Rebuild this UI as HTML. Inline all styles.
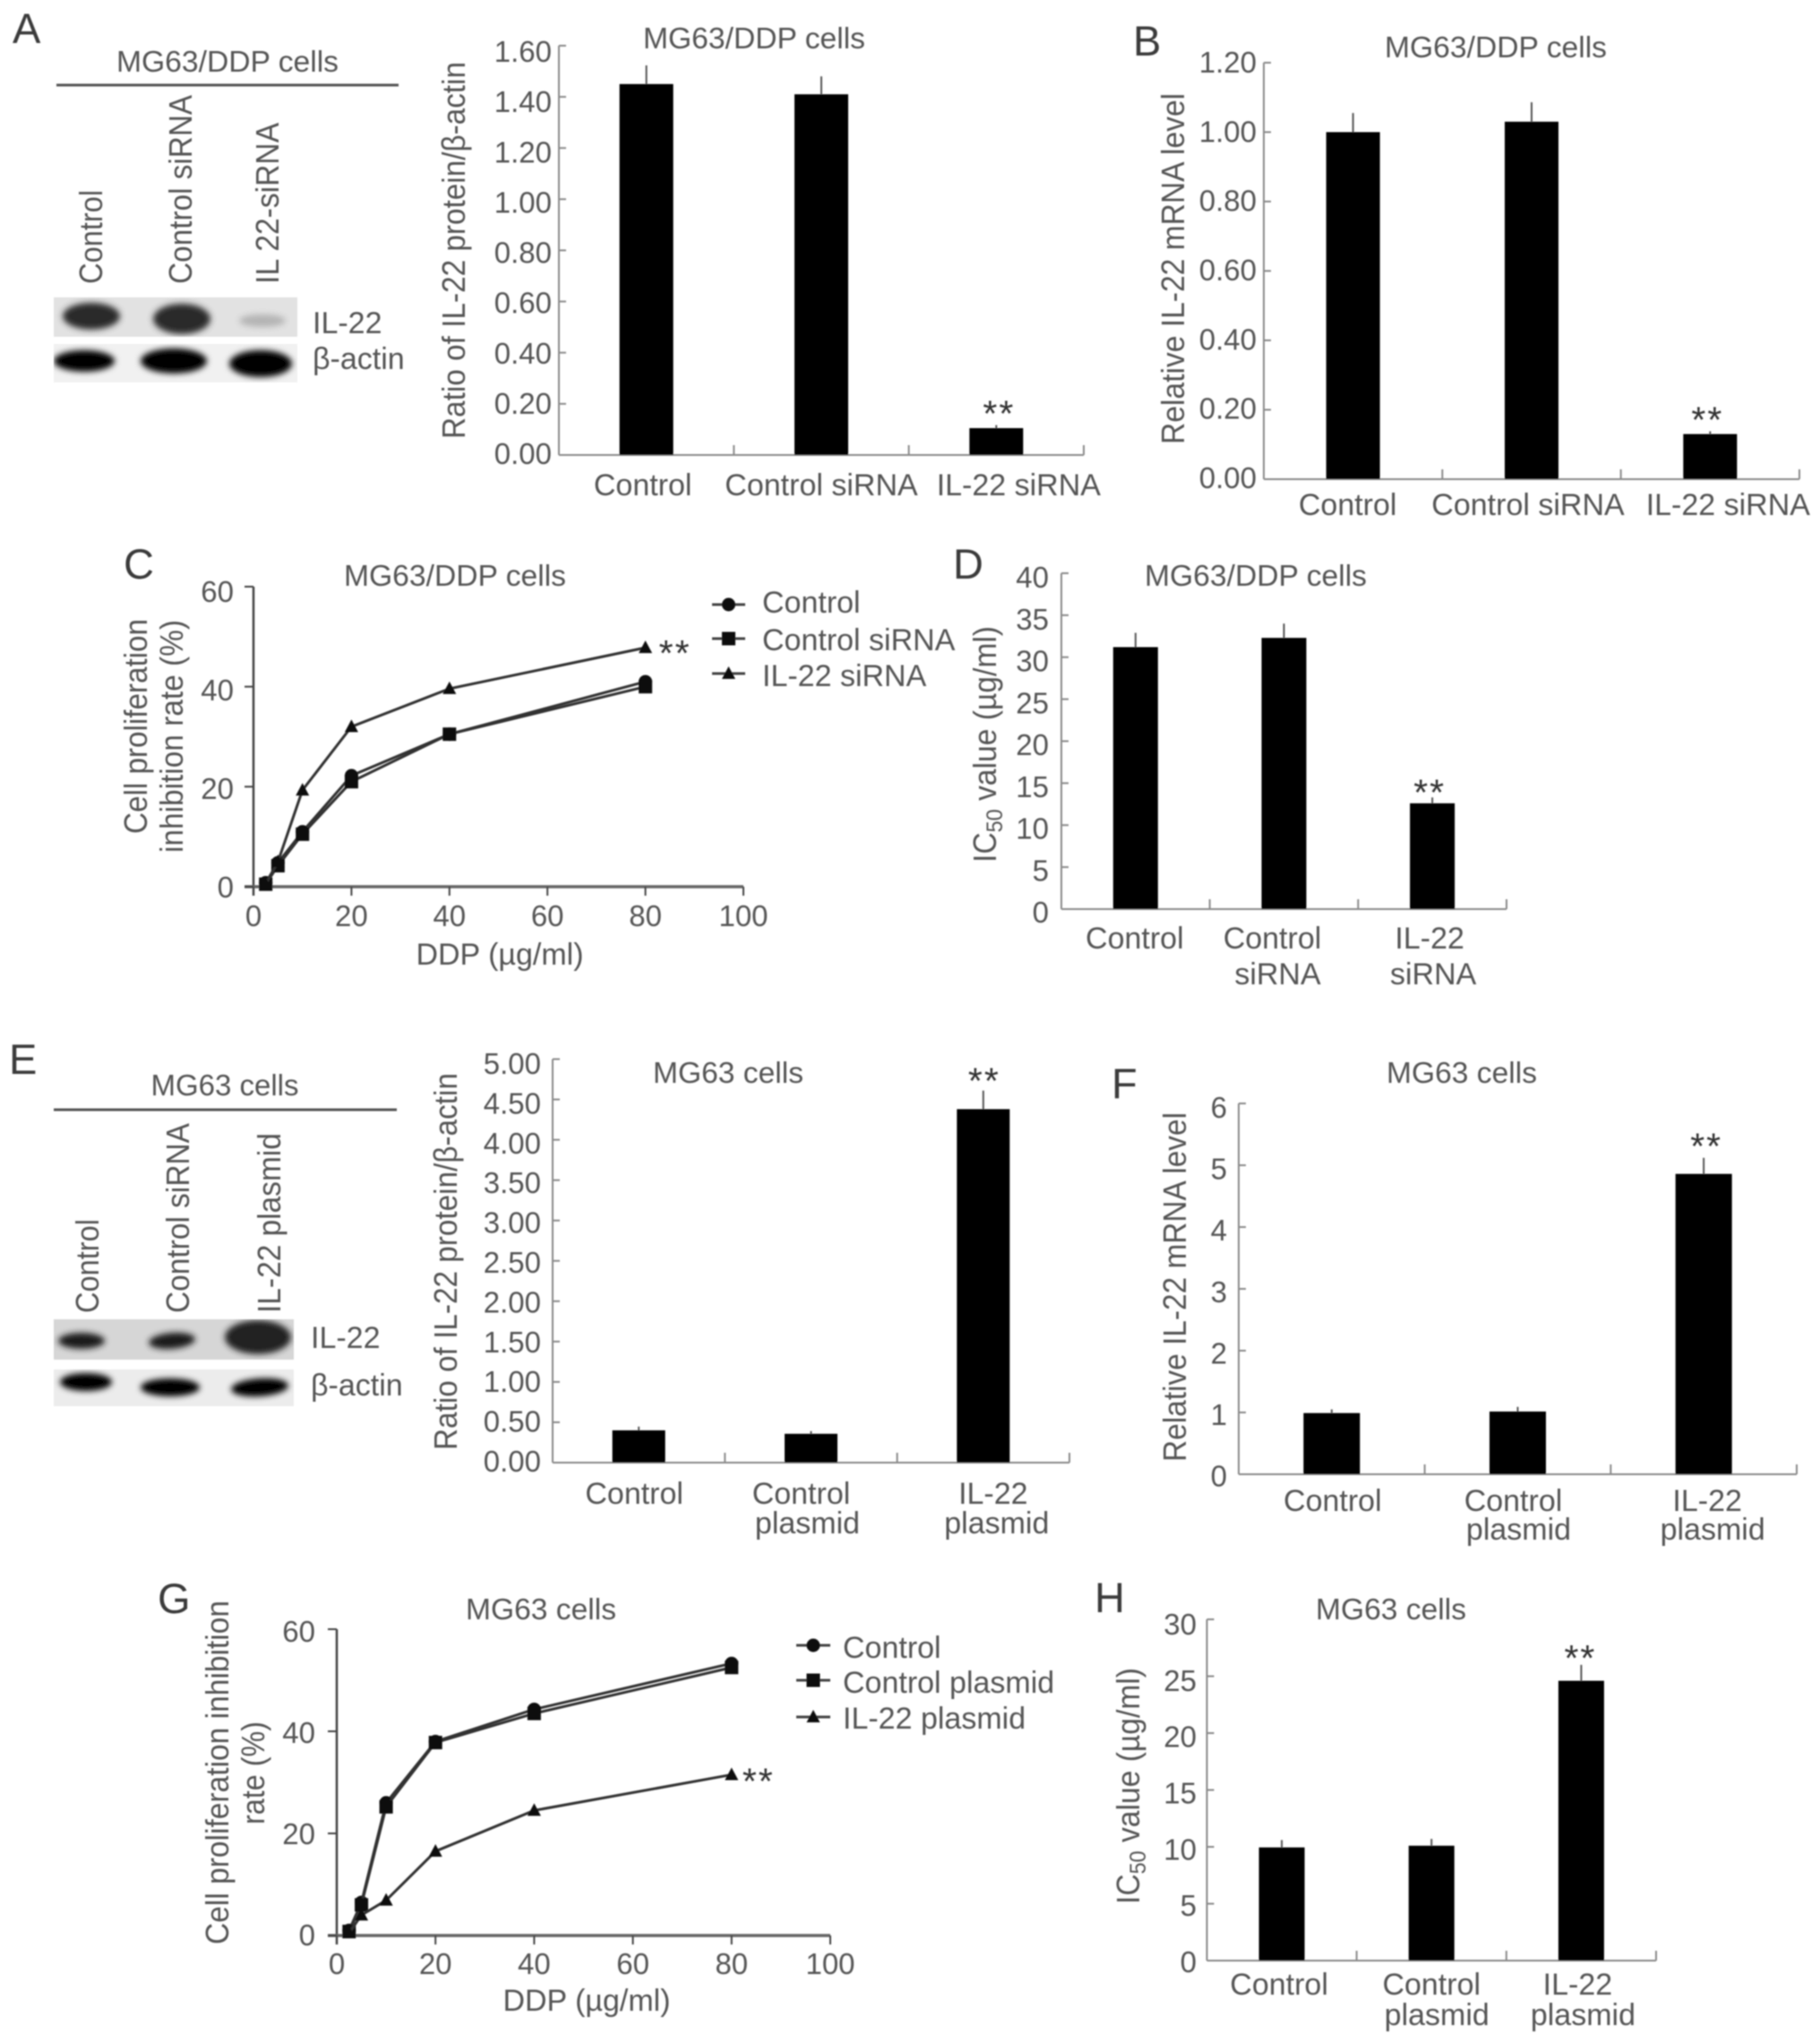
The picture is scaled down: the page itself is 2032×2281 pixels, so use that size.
<!DOCTYPE html>
<html lang="en">
<head>
<meta charset="utf-8">
<title>IL-22 figure panels A-H</title>
<style>
html,body{margin:0;padding:0;background:#fff;}
svg{display:block;}
text{font-family:"Liberation Sans",sans-serif;fill:#555;font-size:33px;}
.letter{font-size:47px;fill:#3a3a3a;}
.rot{font-size:36px;}
.leg{font-size:34px;}
</style>
</head>
<body>
<svg id="figure" xmlns="http://www.w3.org/2000/svg" width="2032" height="2281" viewBox="0 0 2032 2281">
<defs>
<filter id="soft" x="-5%" y="-5%" width="110%" height="110%"><feGaussianBlur stdDeviation="0.9"/></filter>
<filter id="band" x="-40%" y="-60%" width="180%" height="220%"><feGaussianBlur stdDeviation="3.5"/></filter>
<clipPath id="clipA1"><rect x="60" y="332" width="272" height="44"/></clipPath>
<clipPath id="clipA2"><rect x="60" y="384" width="272" height="43"/></clipPath>
<clipPath id="clipE1"><rect x="60" y="1473" width="268" height="45"/></clipPath>
<clipPath id="clipE2"><rect x="60" y="1529" width="268" height="41"/></clipPath>
</defs>
<rect width="2032" height="2281" fill="#fff"/>
<g id="root" filter="url(#soft)">
  <text class="letter" x="14" y="48">A</text>
  <text class="letter" x="1265" y="62">B</text>
  <text class="letter" x="138" y="646">C</text>
  <text class="letter" x="1064" y="646">D</text>
  <text class="letter" x="10" y="1199">E</text>
  <text class="letter" x="1241" y="1226">F</text>
  <text class="letter" x="176" y="1801">G</text>
  <text class="letter" x="1222" y="1800">H</text>

  <!-- Blot A -->
  <g>
    <text x="254" y="80" text-anchor="middle" textLength="248" lengthAdjust="spacingAndGlyphs">MG63/DDP cells</text>
    <rect x="63" y="93.5" width="382" height="3" fill="#555"/>
    <text class="rot" transform="translate(114,317) rotate(-90)" textLength="105" lengthAdjust="spacingAndGlyphs">Control</text>
    <text class="rot" transform="translate(214,317) rotate(-90)" textLength="211" lengthAdjust="spacingAndGlyphs">Control siRNA</text>
    <text class="rot" transform="translate(311,317) rotate(-90)" textLength="180" lengthAdjust="spacingAndGlyphs">IL 22-siRNA</text>
  </g>
  <g clip-path="url(#clipA1)">
    <rect x="60" y="332" width="272" height="44" fill="#e2e2e2"/>
    <ellipse cx="102" cy="353" rx="32" ry="15" fill="#2c2c2c" filter="url(#band)"/>
    <ellipse cx="203" cy="356" rx="32" ry="17" fill="#2c2c2c" filter="url(#band)"/>
    <ellipse cx="293" cy="358" rx="26" ry="7" fill="#b4b4b4" filter="url(#band)"/>
  </g>
  <g clip-path="url(#clipA2)">
    <rect x="60" y="384" width="272" height="43" fill="#f1f1f1"/>
    <ellipse cx="94" cy="403" rx="34" ry="12" fill="#000" filter="url(#band)"/>
    <ellipse cx="194" cy="403" rx="37" ry="14" fill="#000" filter="url(#band)"/>
    <ellipse cx="291" cy="406" rx="35" ry="15" fill="#000" filter="url(#band)"/>
  </g>
  <text class="leg" x="349" y="372">IL-22</text>
  <text class="leg" x="349" y="412">β-actin</text>

  <!-- Blot E -->
  <g>
    <text x="251" y="1223" text-anchor="middle">MG63 cells</text>
    <rect x="60" y="1237.5" width="383" height="3" fill="#555"/>
    <text class="rot" transform="translate(110,1466) rotate(-90)" textLength="105" lengthAdjust="spacingAndGlyphs">Control</text>
    <text class="rot" transform="translate(211,1466) rotate(-90)" textLength="212" lengthAdjust="spacingAndGlyphs">Control siRNA</text>
    <text class="rot" transform="translate(313,1466) rotate(-90)" textLength="201" lengthAdjust="spacingAndGlyphs">IL-22 plasmid</text>
  </g>
  <g clip-path="url(#clipE1)">
    <rect x="60" y="1473" width="268" height="45" fill="#d6d6d6"/>
    <ellipse cx="91" cy="1497" rx="26" ry="9" fill="#1c1c1c" filter="url(#band)"/>
    <ellipse cx="192" cy="1497" rx="26" ry="9" fill="#1c1c1c" filter="url(#band)" transform="rotate(-5 192 1497)"/>
    <ellipse cx="288" cy="1493" rx="37" ry="19" fill="#222" filter="url(#band)"/>
  </g>
  <g clip-path="url(#clipE2)">
    <rect x="60" y="1529" width="268" height="41" fill="#ececec"/>
    <ellipse cx="96" cy="1543" rx="29" ry="10" fill="#000" filter="url(#band)"/>
    <ellipse cx="190" cy="1549" rx="33" ry="10" fill="#000" filter="url(#band)"/>
    <ellipse cx="290" cy="1549" rx="32" ry="10" fill="#000" filter="url(#band)" transform="rotate(-4 290 1549)"/>
  </g>
  <text class="leg" x="347" y="1505">IL-22</text>
  <text class="leg" x="347" y="1558">β-actin</text>

  <!-- Chart titles -->
  <text x="842" y="54" text-anchor="middle" textLength="248" lengthAdjust="spacingAndGlyphs">MG63/DDP cells</text>
  <text x="1670" y="64" text-anchor="middle" textLength="248" lengthAdjust="spacingAndGlyphs">MG63/DDP cells</text>
  <text x="508" y="654" text-anchor="middle" textLength="248" lengthAdjust="spacingAndGlyphs">MG63/DDP cells</text>
  <text x="1402" y="654" text-anchor="middle" textLength="248" lengthAdjust="spacingAndGlyphs">MG63/DDP cells</text>
  <text x="813" y="1209" text-anchor="middle" textLength="168" lengthAdjust="spacingAndGlyphs">MG63 cells</text>
  <text x="1632" y="1209" text-anchor="middle" textLength="168" lengthAdjust="spacingAndGlyphs">MG63 cells</text>
  <text x="604" y="1808" text-anchor="middle" textLength="168" lengthAdjust="spacingAndGlyphs">MG63 cells</text>
  <text x="1553" y="1808" text-anchor="middle" textLength="168" lengthAdjust="spacingAndGlyphs">MG63 cells</text>

  <!-- Y axis titles -->
  <text class="rot" transform="translate(519,490) rotate(-90)" textLength="421" lengthAdjust="spacingAndGlyphs">Ratio of IL-22 protein/β-actin</text>
  <text class="rot" transform="translate(1322,496) rotate(-90)" textLength="392" lengthAdjust="spacingAndGlyphs">Relative IL-22 mRNA level</text>
  <text class="rot" transform="translate(164,931) rotate(-90)" textLength="240" lengthAdjust="spacingAndGlyphs">Cell proliferation</text>
  <text class="rot" transform="translate(204,952) rotate(-90)" textLength="260" lengthAdjust="spacingAndGlyphs">inhibition rate (%)</text>
  <text class="rot" transform="translate(1112,963) rotate(-90)" textLength="264" lengthAdjust="spacingAndGlyphs">IC<tspan font-size="25" dy="7">50</tspan><tspan dy="-7"> value (µg/ml)</tspan></text>
  <text class="rot" transform="translate(510,1619) rotate(-90)" textLength="421" lengthAdjust="spacingAndGlyphs">Ratio of IL-22 protein/β-actin</text>
  <text class="rot" transform="translate(1324,1632) rotate(-90)" textLength="390" lengthAdjust="spacingAndGlyphs">Relative IL-22 mRNA level</text>
  <text class="rot" transform="translate(255,2171) rotate(-90)" textLength="384" lengthAdjust="spacingAndGlyphs">Cell proliferation inhibition</text>
  <text class="rot" transform="translate(295,2037) rotate(-90)" textLength="115" lengthAdjust="spacingAndGlyphs">rate (%)</text>
  <text class="rot" transform="translate(1272,2126) rotate(-90)" textLength="264" lengthAdjust="spacingAndGlyphs">IC<tspan font-size="25" dy="7">50</tspan><tspan dy="-7"> value (µg/ml)</tspan></text>

  <!-- X axis titles -->
  <text class="leg" x="558" y="1077" text-anchor="middle">DDP (µg/ml)</text>
  <text class="leg" x="655" y="2245" text-anchor="middle">DDP (µg/ml)</text>

  <!-- Legend text -->
  <text class="leg" x="851" y="684">Control</text>
  <text class="leg" x="851" y="726">Control siRNA</text>
  <text class="leg" x="851" y="766">IL-22 siRNA</text>
  <text class="leg" x="941" y="1851">Control</text>
  <text class="leg" x="941" y="1890">Control plasmid</text>
  <text class="leg" x="941" y="1930">IL-22 plasmid</text>
</g>
</svg>
<script>
const panelACategories = [["Control"], ["Control siRNA"], ["IL-22 siRNA"]];
const panelATicks = ["0.00", "0.20", "0.40", "0.60", "0.80", "1.00", "1.20", "1.40", "1.60"];
const panelAValues = [1.45, 1.41, 0.105];
const panelAErrorTops = [1.523, 1.48, 0.117];

const panelBCategories = [["Control"], ["Control siRNA"], ["IL-22 siRNA"]];
const panelBTicks = ["0.00", "0.20", "0.40", "0.60", "0.80", "1.00", "1.20"];
const panelBValues = [1.0, 1.03, 0.13];
const panelBErrorTops = [1.055, 1.086, 0.138];

const panelDCategories = [["Control"], ["Control", "siRNA"], ["IL-22", "siRNA"]];
const panelDTicks = ["0", "5", "10", "15", "20", "25", "30", "35", "40"];
const panelDValues = [31.2, 32.3, 12.6];
const panelDErrorTops = [32.9, 34.0, 13.3];

const panelECategories = [["Control"], ["Control", "plasmid"], ["IL-22", "plasmid"]];
const panelETicks = ["0.00", "0.50", "1.00", "1.50", "2.00", "2.50", "3.00", "3.50", "4.00", "4.50", "5.00"];
const panelEValues = [0.40, 0.357, 4.38];
const panelEErrorTops = [0.446, 0.39, 4.61];

const panelFCategories = [["Control"], ["Control", "plasmid"], ["IL-22", "plasmid"]];
const panelFTicks = ["0", "1", "2", "3", "4", "5", "6"];
const panelFValues = [0.99, 1.015, 4.86];
const panelFErrorTops = [1.05, 1.09, 5.12];

const panelHCategories = [["Control"], ["Control", "plasmid"], ["IL-22", "plasmid"]];
const panelHTicks = ["0", "5", "10", "15", "20", "25", "30"];
const panelHValues = [9.95, 10.1, 24.6];
const panelHErrorTops = [10.6, 10.7, 26.0];

const doseLevels = [2.5, 5, 10, 20, 40, 80];
const lineXTicks = ["0", "20", "40", "60", "80", "100"];
const lineYTicks = ["0", "20", "40", "60"];

const panelCControl = [0.8, 4.8, 11, 22.2, 30.5, 41];
const panelCControlSirna = [0.5, 4.2, 10.5, 21, 30.5, 40];
const panelCIl22Sirna = [0.5, 5, 19.3, 32, 39.6, 47.8];

const panelGControl = [1, 6.5, 26, 38, 44.3, 53.3];
const panelGControlPlasmid = [0.8, 6, 25.2, 37.8, 43.5, 52.5];
const panelGIl22Plasmid = [0.5, 4, 6.9, 16.5, 24.5, 31.5];

const root = document.getElementById('root');
const NS = 'http://www.w3.org/2000/svg';

function make(parent, tag, attrs, name) {
  const el = document.createElementNS(NS, tag);
  for (const k in attrs) el.setAttribute(k, attrs[k]);
  
  
  parent.appendChild(el);
  return el;
}

function label(parent, x, y, str, anchor, name, size) {
  const t = make(parent, 'text', { x: x, y: y, 'text-anchor': anchor }, name);
  if (size) t.style.fontSize = size + 'px';
  t.textContent = str;
  return t;
}

function stars(parent, cx, cy, name) {
  const t = make(parent, 'text', { x: cx, y: cy + 23, 'text-anchor': 'middle' }, name);
  t.style.fontSize = '41px';
  t.style.letterSpacing = '2px';
  t.style.fill = '#333';
  t.textContent = '**';
}

function barChart(c) {
  const g = make(root, 'g', {}, c.id);
  const yMaxVal = c.yMax;
  const yScale = v => c.yBot - (v / yMaxVal) * (c.yBot - c.yTop);
  const band = (c.x1 - c.x0) / c.categories.length;
  const xCenter = i => c.x0 + band * (i + 0.5);
  const axisColor = '#8a8a8a';

  make(g, 'line', { x1: c.x0, y1: c.yTop, x2: c.x0, y2: c.yBot, stroke: axisColor, 'stroke-width': 2 }, 'y-axis');
  make(g, 'line', { x1: c.x0, y1: c.yBot, x2: c.x1, y2: c.yBot, stroke: axisColor, 'stroke-width': 2 }, 'x-axis');

  const n = c.ticks.length - 1;
  c.ticks.forEach((tk, i) => {
    const v = yMaxVal * i / n;
    const y = yScale(v);
    make(g, 'line', { x1: c.x0, y1: y, x2: c.x0 + 8, y2: y, stroke: axisColor, 'stroke-width': 2 }, 'y-tick');
    const off = c.lblBot + (c.lblTop - c.lblBot) * i / n;
    label(g, c.lblRight, y + off + 12, tk, 'end', 'y-tick-label', 33);
  });

  for (let i = 1; i <= c.categories.length; i++) {
    const x = c.x0 + band * i;
    make(g, 'line', { x1: x, y1: c.yBot, x2: x, y2: c.yBot - 11, stroke: axisColor, 'stroke-width': 2 }, 'x-tick');
  }

  c.values.forEach((v, i) => {
    const cx = xCenter(i);
    make(g, 'line', { x1: cx, y1: yScale(c.errs[i]), x2: cx, y2: yScale(v), stroke: '#555', 'stroke-width': 2 }, 'error-bar');
    make(g, 'rect', { x: cx - c.barW / 2, y: yScale(v), width: c.barW, height: c.yBot - yScale(v), fill: '#000' }, 'bar');
  });

  c.categories.forEach((lines, i) => {
    lines.forEach((ln, j) => {
      label(g, xCenter(i) + c.labelDx[i][j], c.labelY[j], ln, 'middle', 'category-label', 34);
    });
  });

  const sig = c.values.length - 1;
  stars(g, xCenter(sig) + c.starDx, yScale(c.errs[sig]) - c.starGap, 'significance-marker');
}

function marker(parent, kind, x, y, name) {
  if (kind === 'circle') {
    make(parent, 'circle', { cx: x, cy: y, r: 7.5, fill: '#111' }, name);
  } else if (kind === 'square') {
    make(parent, 'rect', { x: x - 7.5, y: y - 7.5, width: 15, height: 15, fill: '#111' }, name);
  } else {
    make(parent, 'polygon', { points: (x) + ',' + (y - 8) + ' ' + (x + 7.5) + ',' + (y + 6) + ' ' + (x - 7.5) + ',' + (y + 6), fill: '#111' }, name);
  }
}

function lineChart(c) {
  const g = make(root, 'g', {}, c.id);
  const xScale = v => c.x0 + (v / 100) * (c.x1 - c.x0);
  const yScale = v => c.yBot - (v / 60) * (c.yBot - c.yTop);
  const axisColor = '#444';

  make(g, 'line', { x1: c.x0, y1: c.yTop, x2: c.x0, y2: c.yBot + 10, stroke: axisColor, 'stroke-width': 2.5 }, 'y-axis');
  make(g, 'line', { x1: c.x0 - 10, y1: c.yBot, x2: c.x1, y2: c.yBot, stroke: '#666', 'stroke-width': 3.5 }, 'x-axis');

  lineYTicks.forEach((tk, i) => {
    const y = yScale(Number(tk));
    make(g, 'line', { x1: c.x0 - 10, y1: y, x2: c.x0, y2: y, stroke: axisColor, 'stroke-width': 2 }, 'y-tick');
    const off = c.lblBot + (c.lblTop - c.lblBot) * i / (lineYTicks.length - 1);
    label(g, c.lblRight, y + off + 12, tk, 'end', 'y-tick-label', 33);
  });
  lineXTicks.forEach(tk => {
    const x = xScale(Number(tk));
    make(g, 'line', { x1: x, y1: c.yBot, x2: x, y2: c.yBot + 10, stroke: axisColor, 'stroke-width': 2 }, 'x-tick');
    label(g, x, c.xLabelY, tk, 'middle', 'x-tick-label', 33);
  });

  c.series.forEach((s, idx) => {
    const sg = make(g, 'g', {}, 'series-' + s.name);
    const pts = doseLevels.map((d, i) => xScale(d) + ',' + yScale(s.values[i])).join(' ');
    make(sg, 'polyline', { points: pts, fill: 'none', stroke: '#333', 'stroke-width': 3 }, 'series-line');
    doseLevels.forEach((d, i) => marker(sg, s.kind, xScale(d), yScale(s.values[i]), 'data-point'));
    make(sg, 'line', { x1: c.legendX0, y1: c.legendY[idx], x2: c.legendX1, y2: c.legendY[idx], stroke: '#444', 'stroke-width': 3 }, 'legend-line');
    marker(sg, s.kind, (c.legendX0 + c.legendX1) / 2, c.legendY[idx], 'legend-marker');
  });

  const last = doseLevels.length - 1;
  stars(g, xScale(doseLevels[last]) + c.starDx, yScale(c.series[2].values[last]) + c.starDy, 'significance-marker');
}

barChart({ id: 'chart-a', categories: panelACategories, ticks: panelATicks, values: panelAValues, errs: panelAErrorTops, yMax: 1.6,
  x0: 624, x1: 1210, yTop: 51, yBot: 508, barW: 60, lblRight: 616, lblTop: 6, lblBot: -2,
  labelDx: [[-4], [0], [25]], labelY: [553], starDx: 3, starGap: 22 });

barChart({ id: 'chart-b', categories: panelBCategories, ticks: panelBTicks, values: panelBValues, errs: panelBErrorTops, yMax: 1.2,
  x0: 1411, x1: 2009, yTop: 70, yBot: 535, barW: 60, lblRight: 1403, lblTop: -1, lblBot: -2,
  labelDx: [[-6], [-4], [20]], labelY: [575], starDx: -3, starGap: 22 });

barChart({ id: 'chart-d', categories: panelDCategories, ticks: panelDTicks, values: panelDValues, errs: panelDErrorTops, yMax: 40,
  x0: 1185, x1: 1682, yTop: 640, yBot: 1015, barW: 50, lblRight: 1171, lblTop: 4, lblBot: 3,
  labelDx: [[-1], [-13, -7], [-3, 1]], labelY: [1059, 1099], starDx: -3, starGap: 15 });

barChart({ id: 'chart-e', categories: panelECategories, ticks: panelETicks, values: panelEValues, errs: panelEErrorTops, yMax: 5,
  x0: 617, x1: 1194, yTop: 1182.5, yBot: 1633, barW: 59, lblRight: 604, lblTop: 4.5, lblBot: -2,
  labelDx: [[-5], [-11, -4], [11, 15]], labelY: [1679, 1712], starDx: 1, starGap: 20 });

barChart({ id: 'chart-f', categories: panelFCategories, ticks: panelFTicks, values: panelFValues, errs: panelFErrorTops, yMax: 6,
  x0: 1383, x1: 2006, yTop: 1232, yBot: 1646, barW: 63, lblRight: 1370, lblTop: 4, lblBot: 1.5,
  labelDx: [[1], [-5, 1], [4, 10]], labelY: [1687, 1719], starDx: 3, starGap: 22 });

barChart({ id: 'chart-h', categories: panelHCategories, ticks: panelHTicks, values: panelHValues, errs: panelHErrorTops, yMax: 30,
  x0: 1347.5, x1: 1849, yTop: 1808, yBot: 2189, barW: 51, lblRight: 1336, lblTop: 5, lblBot: 1,
  labelDx: [[-3], [0, 6], [-4, 2]], labelY: [2227, 2261], starDx: -1, starGap: 17 });

lineChart({ id: 'chart-c', x0: 283, x1: 830, yTop: 655, yBot: 990, lblRight: 261, lblTop: 5, lblBot: 0, xLabelY: 1034,
  series: [
    { name: 'control', kind: 'circle', values: panelCControl },
    { name: 'control-sirna', kind: 'square', values: panelCControlSirna },
    { name: 'il22-sirna', kind: 'triangle', values: panelCIl22Sirna }
  ],
  legendX0: 795, legendX1: 832, legendY: [675, 713, 752], starDx: 33, starDy: -3 });

lineChart({ id: 'chart-g', x0: 376, x1: 927, yTop: 1819, yBot: 2161, lblRight: 352, lblTop: 2, lblBot: -1, xLabelY: 2204,
  series: [
    { name: 'control', kind: 'circle', values: panelGControl },
    { name: 'control-plasmid', kind: 'square', values: panelGControlPlasmid },
    { name: 'il22-plasmid', kind: 'triangle', values: panelGIl22Plasmid }
  ],
  legendX0: 889, legendX1: 927, legendY: [1837, 1876, 1917], starDx: 30, starDy: -2 });
</script>
</body>
</html>
